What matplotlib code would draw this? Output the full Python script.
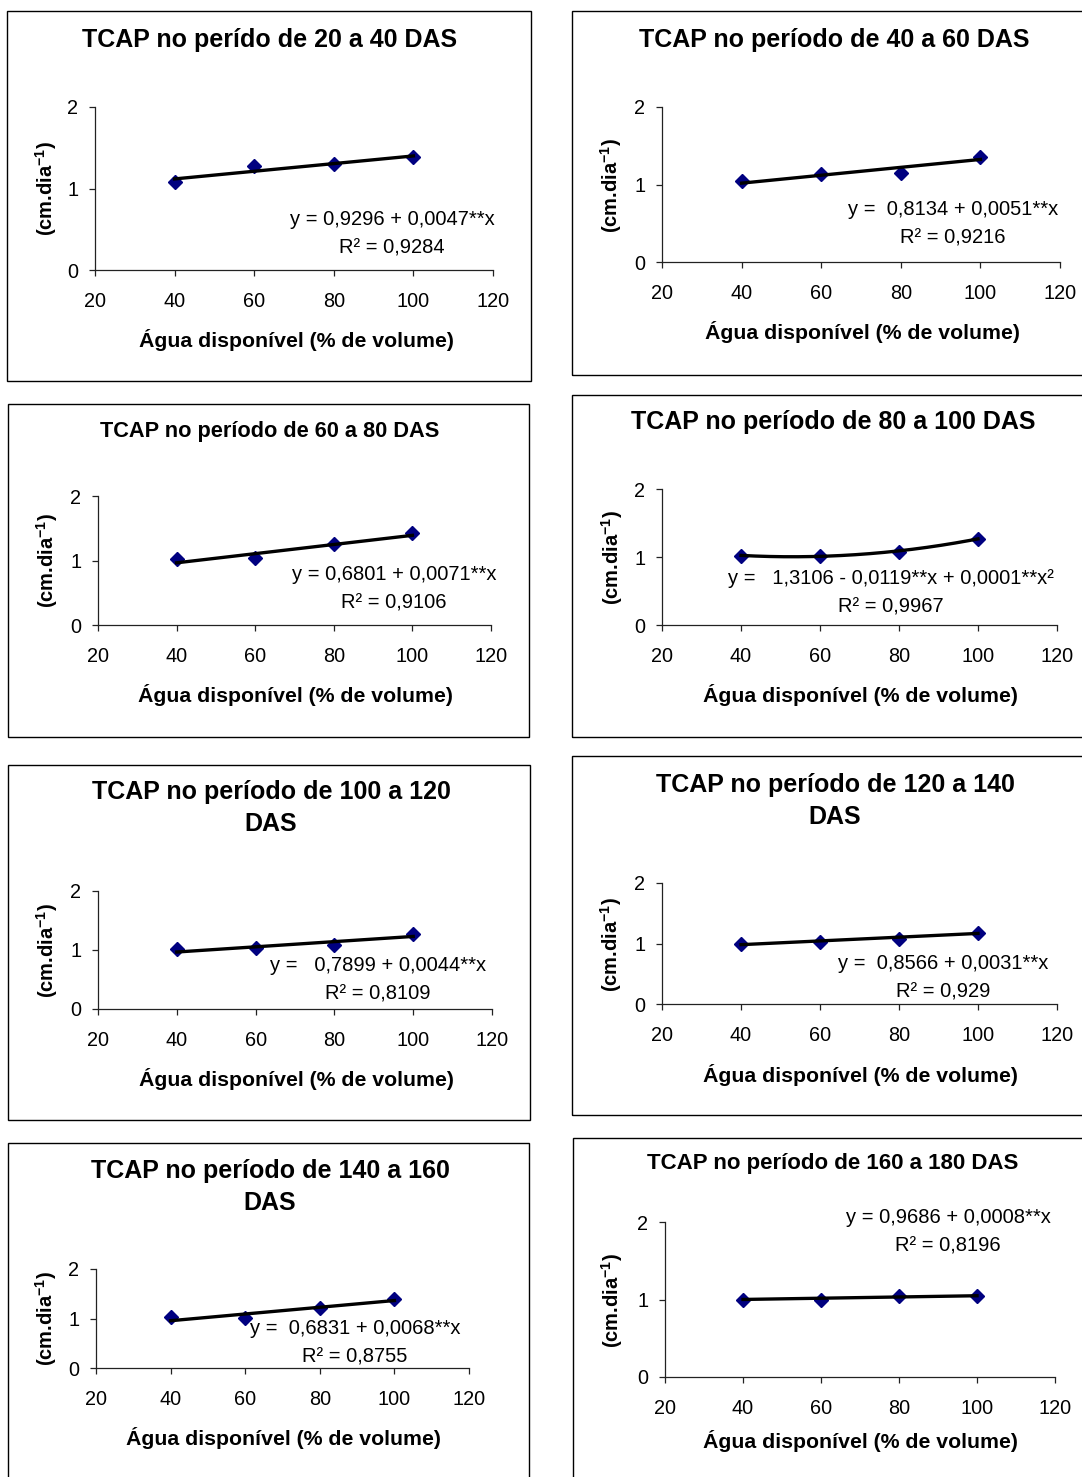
import numpy as np
import matplotlib
matplotlib.use("Agg")
import matplotlib.pyplot as plt
from matplotlib.patches import Rectangle

plt.rcParams['font.family'] = ['Liberation Sans', 'DejaVu Sans']
plt.rcParams['mathtext.fontset'] = 'custom'
plt.rcParams['mathtext.rm'] = 'Liberation Sans'
plt.rcParams['mathtext.bf'] = 'Liberation Sans:bold'

# ---------------- data ----------------
water = [40, 60, 80, 100]
x_ticks = [20, 40, 60, 80, 100, 120]
y_ticks = [0, 1, 2]

titles = [
    "TCAP no perído de 20 a 40 DAS",
    "TCAP no período de 40 a 60 DAS",
    "TCAP no período de 60 a 80 DAS",
    "TCAP no período de 80 a 100 DAS",
    "TCAP no período de 100 a 120\nDAS",
    "TCAP no período de 120 a 140\nDAS",
    "TCAP no período de 140 a 160\nDAS",
    "TCAP no período de 160 a 180 DAS",
]

tcap_20_40 = [1.08, 1.27, 1.30, 1.39]
tcap_40_60 = [1.04, 1.13, 1.15, 1.35]
tcap_60_80 = [1.02, 1.04, 1.25, 1.42]
tcap_80_100 = [1.02, 1.02, 1.08, 1.27]
tcap_100_120 = [1.02, 1.03, 1.08, 1.27]
tcap_120_140 = [1.00, 1.02, 1.08, 1.18]
tcap_140_160 = [1.03, 1.02, 1.21, 1.39]
tcap_160_180 = [1.00, 1.00, 1.04, 1.04]
series = [tcap_20_40, tcap_40_60, tcap_60_80, tcap_80_100,
          tcap_100_120, tcap_120_140, tcap_140_160, tcap_160_180]

# regression degree for each panel's trendline
trend_degree = [1, 1, 1, 2, 1, 1, 1, 1]
# printed linear coefficients (intercept, slope); None -> quadratic fitted
intercepts = [0.9296, 0.8134, 0.6801, None, 0.7899, 0.8566, 0.6831, 0.9686]
slopes = [0.0047, 0.0051, 0.0071, None, 0.0044, 0.0031, 0.0068, 0.0008]

equations = [
    "y = 0,9296 + 0,0047**x\nR² = 0,9284",
    "y =  0,8134 + 0,0051**x\nR² = 0,9216",
    "y = 0,6801 + 0,0071**x\nR² = 0,9106",
    "y =   1,3106 - 0,0119**x + 0,0001**x²\nR² = 0,9967",
    "y =   0,7899 + 0,0044**x\nR² = 0,8109",
    "y =  0,8566 + 0,0031**x\nR² = 0,929",
    "y =  0,6831 + 0,0068**x\nR² = 0,8755",
    "y = 0,9686 + 0,0008**x\nR² = 0,8196",
]

x_label = "Água disponível (% de volume)"
y_label = r"(cm.dia$^{\mathbf{-1}}$)"

# ---------------- layout (pixels) ----------------
W, H = 1082, 1477
fig = plt.figure(figsize=(W / 100, H / 100), dpi=100)

boxes = [(7, 11, 531, 381), (572, 11, 1090, 375),
         (8, 404, 529, 737), (572, 395, 1090, 737),
         (8, 765, 530, 1120), (572, 756, 1090, 1115),
         (8, 1143, 529, 1490), (573, 1138, 1090, 1490)]
axes_px = [(95, 493, 270, 107), (662, 1060, 262, 107),
           (98, 491, 625, 496), (662, 1057, 625, 489),
           (98, 492, 1009, 891), (662, 1057, 1004, 883),
           (96, 469, 1368, 1269), (665, 1055, 1377, 1222)]
title_pos = [(270, 40), (834, 40), (270, 431), (833, 422),
             (271, 808), (835, 801), (270, 1187), (833, 1164)]
title_size = [18, 18, 15.7, 18, 18, 18, 18, 16]
eq_pos = [(392, 234), (953, 224), (394, 589), (891, 593),
          (378, 980), (943, 978), (355, 1343), (948, 1232)]
xlab_pos = [(296, 340), (862, 332), (295, 695), (860, 695),
            (296, 1079), (860, 1075), (283, 1438), (860, 1441)]
ylab_pos = [(46, 188), (611, 185), (47, 560), (612, 557),
            (47, 950), (611, 944), (46, 1318), (612, 1300)]


def fp(x, y):
    return x / W, 1 - y / H


for i in range(8):
    bx0, by0, bx1, by1 = boxes[i]
    fig.add_artist(Rectangle(fp(bx0, by1), (bx1 - bx0) / W, (by1 - by0) / H,
                             fill=False, lw=1.0, ec='black',
                             transform=fig.transFigure))
    x0, x1, y0, y1 = axes_px[i]
    ax = fig.add_axes([x0 / W, 1 - y0 / H, (x1 - x0) / W, (y0 - y1) / H])
    ax.set_xlim(20, 120)
    ax.set_ylim(0, 2)
    ax.set_xticks(x_ticks)
    ax.set_yticks(y_ticks)
    for s in ['top', 'right']:
        ax.spines[s].set_visible(False)
    for s in ['left', 'bottom']:
        ax.spines[s].set_linewidth(0.9)
        ax.spines[s].set_color('#222222')
    ax.tick_params(axis='both', direction='out', length=4, width=0.9,
                   color='#222222', labelsize=14.3)
    ax.tick_params(axis='x', pad=12)
    ax.tick_params(axis='y', pad=8)
    ax.patch.set_alpha(0)

    xs = np.array(water, dtype=float)
    ys = np.array(series[i], dtype=float)
    xx = np.linspace(xs.min(), xs.max(), 200)
    if trend_degree[i] == 1:
        yy = intercepts[i] + slopes[i] * xx
    else:
        coef = np.polyfit(xs, ys, 2)
        yy = np.polyval(coef, xx)
    ax.plot(xs, ys, linestyle='none', marker='D', markersize=7,
            color='#000080', zorder=3)
    ax.plot(xx, yy, color='black', lw=2.4, zorder=4)

    fig.text(*fp(*title_pos[i]), titles[i], ha='center', va='center',
             fontsize=title_size[i], fontweight='bold', linespacing=1.45)
    fig.text(*fp(*eq_pos[i]), equations[i], ha='center', va='center',
             multialignment='center', fontsize=14.5, linespacing=1.65)
    fig.text(*fp(*xlab_pos[i]), x_label, ha='center', va='center',
             fontsize=15.3, fontweight='bold')
    fig.text(*fp(*ylab_pos[i]), y_label, ha='center', va='center',
             fontsize=14.5, fontweight='bold', rotation=90)

fig.savefig("out.png", dpi=100, facecolor='white')
